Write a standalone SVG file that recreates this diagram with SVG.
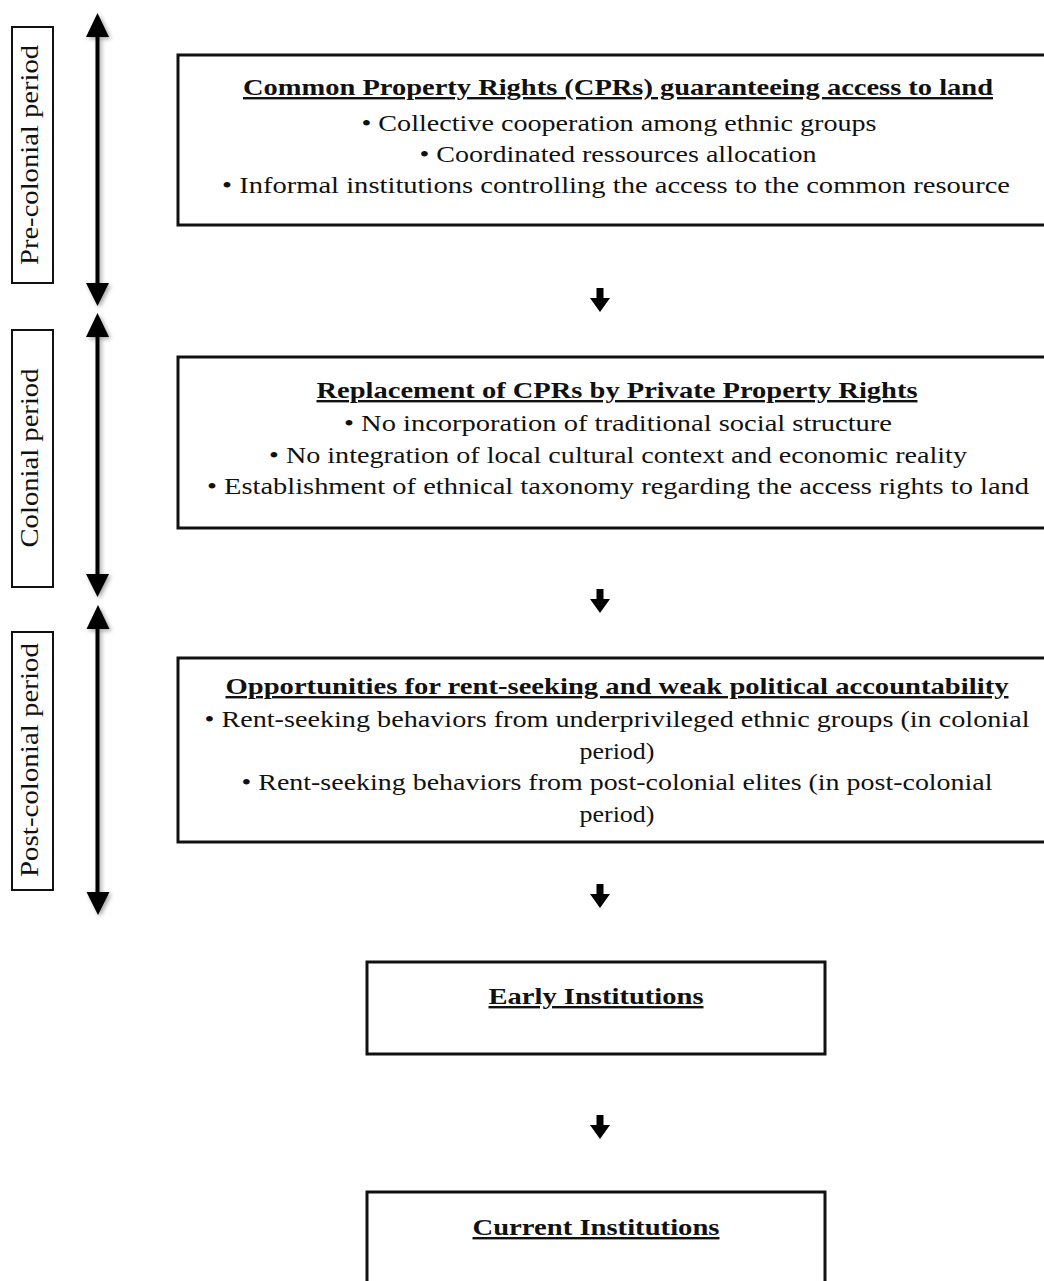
<svg xmlns="http://www.w3.org/2000/svg" width="1044" height="1281" viewBox="0 0 1044 1281">
<style>
.box{fill:#fff;stroke:#111;stroke-width:3}
.lbl{fill:#fff;stroke:#111;stroke-width:2}
text{font-family:"Liberation Serif","Times New Roman",serif;fill:#111}
.t{font-size:24px;text-anchor:middle}
.h{font-weight:bold;text-decoration:underline}
.p{font-size:25px;text-anchor:middle}
.per{stroke:#000;stroke-width:4;fill:none}
.head{fill:#000}
</style>
<defs>
<filter id="sh" x="-50%" y="-5%" width="200%" height="110%">
<feDropShadow dx="2" dy="2" stdDeviation="2" flood-color="#000" flood-opacity="0.35"/>
</filter>
</defs>
<rect width="1044" height="1281" fill="#fff"/>

<g id="period-pre">
<rect class="lbl" x="12" y="27" width="41" height="256"/>
<text class="p" transform="translate(38,155) rotate(-90)" textLength="220" lengthAdjust="spacingAndGlyphs">Pre-colonial period</text>
</g>
<g id="period-colonial">
<rect class="lbl" x="12" y="330" width="41" height="257"/>
<text class="p" transform="translate(38,458) rotate(-90)" textLength="179" lengthAdjust="spacingAndGlyphs">Colonial period</text>
</g>
<g id="period-post">
<rect class="lbl" x="12" y="632" width="41" height="258"/>
<text class="p" transform="translate(38,760) rotate(-90)" textLength="234" lengthAdjust="spacingAndGlyphs">Post-colonial period</text>
</g>

<g id="box-cpr">
<rect class="box" x="178" y="55" width="890" height="170"/>
<text class="t h" x="618" y="95" textLength="750" lengthAdjust="spacingAndGlyphs">Common Property Rights (CPRs) guaranteeing access to land</text>
<text class="t" x="619" y="131" textLength="515" lengthAdjust="spacingAndGlyphs">• Collective cooperation among ethnic groups</text>
<text class="t" x="618" y="162" textLength="397" lengthAdjust="spacingAndGlyphs">• Coordinated ressources allocation</text>
<text class="t" x="616" y="193" textLength="788" lengthAdjust="spacingAndGlyphs">• Informal institutions controlling the access to the common resource</text>
</g>

<g id="box-replacement">
<rect class="box" x="178" y="357" width="890" height="171"/>
<text class="t h" x="617" y="398" textLength="601" lengthAdjust="spacingAndGlyphs">Replacement of CPRs by Private Property Rights</text>
<text class="t" x="618" y="431" textLength="548" lengthAdjust="spacingAndGlyphs">• No incorporation of traditional social structure</text>
<text class="t" x="618" y="463" textLength="698" lengthAdjust="spacingAndGlyphs">• No integration of local cultural context and economic reality</text>
<text class="t" x="618" y="494" textLength="822" lengthAdjust="spacingAndGlyphs">• Establishment of ethnical taxonomy regarding the access rights to land</text>
</g>

<g id="box-rent">
<rect class="box" x="178" y="658" width="890" height="184"/>
<text class="t h" x="617" y="694" textLength="783" lengthAdjust="spacingAndGlyphs">Opportunities for rent-seeking and weak political accountability</text>
<text class="t" x="617" y="727" textLength="825" lengthAdjust="spacingAndGlyphs">• Rent-seeking behaviors from underprivileged ethnic groups (in colonial</text>
<text class="t" x="617" y="759" textLength="75" lengthAdjust="spacingAndGlyphs">period)</text>
<text class="t" x="617" y="790" textLength="751" lengthAdjust="spacingAndGlyphs">• Rent-seeking behaviors from post-colonial elites (in post-colonial</text>
<text class="t" x="617" y="822" textLength="75" lengthAdjust="spacingAndGlyphs">period)</text>
</g>

<g id="box-early">
<rect class="box" x="367" y="962" width="458" height="92"/>
<text class="t h" x="596" y="1004" textLength="215" lengthAdjust="spacingAndGlyphs">Early Institutions</text>
</g>

<g id="box-current">
<rect class="box" x="367" y="1192" width="458" height="120"/>
<text class="t h" x="596" y="1235" textLength="247" lengthAdjust="spacingAndGlyphs">Current Institutions</text>
</g>

<g id="connectors">
<g filter="url(#sh)">
<line class="per" x1="97.5" y1="30" x2="97.5" y2="290"/>
<polygon class="head" points="97.5,13 86,37 109,37"/>
<polygon class="head" points="97.5,306 86,283 109,283"/>
<line class="per" x1="97.5" y1="330" x2="97.5" y2="582"/>
<polygon class="head" points="97.5,313 86,337 109,337"/>
<polygon class="head" points="97.5,597 86,574 109,574"/>
<line class="per" x1="97.5" y1="622" x2="97.5" y2="900"/>
<polygon class="head" points="98,605 86.5,629 109.5,629"/>
<polygon class="head" points="98,915 86.5,892 109.5,892"/>
</g>
<g class="head">
<path d="M596.5,288 H603.5 V298 H610 L600,312 L590,298 H596.5 Z"/>
<path d="M596.5,589 H603.5 V599 H610 L600,613 L590,599 H596.5 Z"/>
<path d="M596.5,884 H603.5 V894 H610 L600,908 L590,894 H596.5 Z"/>
<path d="M596.5,1115 H603.5 V1125 H610 L600,1139 L590,1125 H596.5 Z"/>
</g>
</g>
</svg>
